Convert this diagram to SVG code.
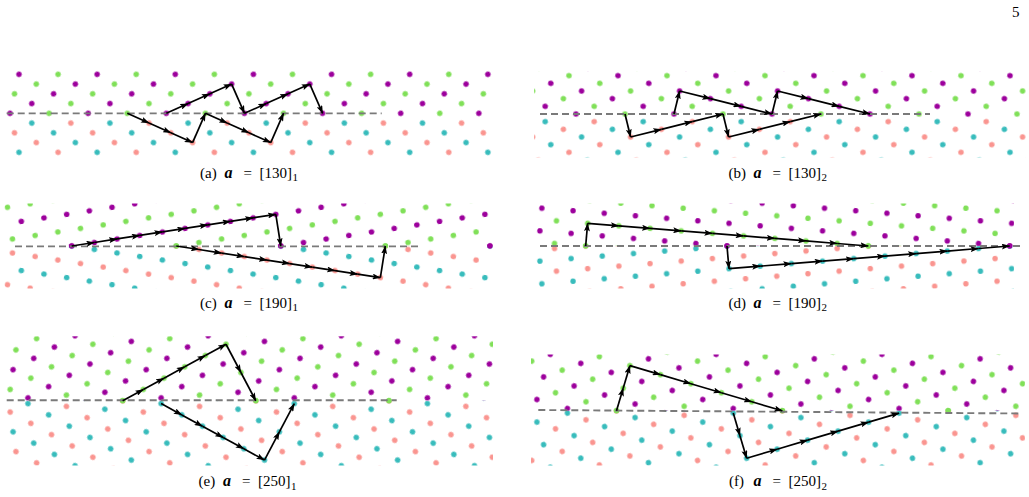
<svg xmlns="http://www.w3.org/2000/svg" width="1029" height="497" viewBox="0 0 1029 497">
<style>
.p{fill:#9c009c}.g{fill:#80e058}.t{fill:#38bcbc}.k{fill:#fa9590}
.ax{stroke:#7a7a7a;stroke-width:1.9;stroke-dasharray:7 4;fill:none}
.ar line{stroke:#000;stroke-width:1.7;marker-end:url(#ah)}
.lbl{font-family:"Liberation Serif","Times New Roman",serif;font-size:15px;fill:#000}
.bi{font-weight:bold;font-style:italic;font-size:16px}
</style>
<defs>
<marker id="ah" viewBox="0 0 8.5 6" refX="8" refY="3" markerWidth="8.5" markerHeight="6" markerUnits="userSpaceOnUse" orient="auto"><path d="M0,0 L8.5,3 L0,6 L1.7,3 z" fill="#000"/></marker>
<pattern id="pau" patternUnits="userSpaceOnUse" width="23.866" height="31.922" patternTransform="matrix(-0.91281 0.40853 0.40051 0.9163 21.25 64.58)"><circle class="p" cx="5.9665" cy="7.9805" r="2.75"/><circle class="g" cx="17.8995" cy="23.9415" r="2.75"/></pattern>
<pattern id="pal" patternUnits="userSpaceOnUse" width="23.866" height="31.922" patternTransform="matrix(-0.91281 -0.40853 0.40051 -0.9163 21.25 162.08)"><circle class="t" cx="5.9665" cy="7.9805" r="2.75"/><circle class="k" cx="17.8995" cy="23.9415" r="2.75"/></pattern>
<pattern id="pbu" patternUnits="userSpaceOnUse" width="31.74" height="23.672" patternTransform="matrix(0.97039 0.24156 -0.23657 0.97161 611.7 68)"><circle class="p" cx="7.935" cy="5.918" r="2.75"/><circle class="g" cx="23.805" cy="17.754" r="2.75"/></pattern>
<pattern id="pbl" patternUnits="userSpaceOnUse" width="31.74" height="23.672" patternTransform="matrix(0.97039 -0.24156 -0.23657 -0.97161 611.7 160)"><circle class="t" cx="7.935" cy="5.918" r="2.75"/><circle class="k" cx="23.805" cy="17.754" r="2.75"/></pattern>
<pattern id="pcu" patternUnits="userSpaceOnUse" width="22.952" height="32.062" patternTransform="matrix(0.98815 -0.15336 0.15595 0.98777 64.75 238.9625)"><circle class="p" cx="5.738" cy="8.0155" r="2.75"/><circle class="g" cx="17.214" cy="24.0465" r="2.75"/></pattern>
<pattern id="pcl" patternUnits="userSpaceOnUse" width="22.952" height="32.062" patternTransform="matrix(0.98815 0.15336 0.15595 -0.98777 64.75 253.0375)"><circle class="t" cx="5.738" cy="8.0155" r="2.75"/><circle class="k" cx="17.214" cy="24.0465" r="2.75"/></pattern>
<pattern id="pdu" patternUnits="userSpaceOnUse" width="22.754" height="31.292" patternTransform="matrix(0.0857 -0.99631 0.99674 0.0805 577.385 251.038)"><circle class="g" cx="5.6885" cy="7.823" r="2.75"/><circle class="p" cx="17.0655" cy="23.469" r="2.75"/></pattern>
<pattern id="pdl" patternUnits="userSpaceOnUse" width="22.754" height="31.292" patternTransform="matrix(0.0857 0.99631 0.99674 -0.0805 577.385 240.962)"><circle class="k" cx="5.6885" cy="7.823" r="2.75"/><circle class="t" cx="17.0655" cy="23.469" r="2.75"/></pattern>
<pattern id="peu" patternUnits="userSpaceOnUse" width="23.557" height="31.939" patternTransform="matrix(0.87745 -0.47969 0.46651 0.8845 113.7775 396.5125)"><circle class="g" cx="5.889" cy="7.985" r="2.75"/><circle class="p" cx="17.668" cy="23.954" r="2.75"/></pattern>
<pattern id="pel" patternUnits="userSpaceOnUse" width="23.557" height="31.939" patternTransform="matrix(0.87745 0.47969 0.46651 -0.8845 113.7775 404.9875)"><circle class="k" cx="5.889" cy="7.985" r="2.75"/><circle class="t" cx="17.668" cy="23.954" r="2.75"/></pattern>
<pattern id="pfu" patternUnits="userSpaceOnUse" width="23.55" height="31.8" patternTransform="matrix(0.28408 -0.95881 0.9588 0.28396 607.205 414.1875)"><circle class="g" cx="5.8875" cy="7.95" r="2.75"/><circle class="p" cx="17.6625" cy="23.85" r="2.75"/></pattern>
<pattern id="pfl" patternUnits="userSpaceOnUse" width="23.55" height="31.8" patternTransform="matrix(0.28408 0.95881 0.9588 -0.28396 607.205 407.4125)"><circle class="k" cx="5.8875" cy="7.95" r="2.75"/><circle class="t" cx="17.6625" cy="23.85" r="2.75"/></pattern>
</defs>
<rect width="1029" height="497" fill="#fff"/>
<text class="lbl" x="1012" y="17" font-size="14">5</text>

<g id="panel-a">
<rect x="5" y="69" width="488" height="48.33" fill="url(#pau)"/>
<rect x="5" y="117.33" width="488" height="39.67" fill="url(#pal)"/>
<line class="ax" x1="6.7" y1="113.33" x2="381.7" y2="113.33"/>
<g id="arrows-a" class="ar">
<line x1="127.27" y1="113.33" x2="149" y2="123.08"/><line x1="149" y1="123.08" x2="170.78" y2="132.83"/><line x1="170.78" y1="132.83" x2="192.57" y2="142.58"/><line x1="192.57" y1="142.58" x2="205.41" y2="113.33"/><line x1="205.41" y1="113.33" x2="227.14" y2="123.08"/><line x1="227.14" y1="123.08" x2="248.92" y2="132.83"/><line x1="248.92" y1="132.83" x2="270.71" y2="142.58"/><line x1="270.71" y1="142.58" x2="283.55" y2="113.33"/>
<line x1="166.34" y1="113.33" x2="188.07" y2="103.58"/><line x1="188.07" y1="103.58" x2="209.85" y2="93.83"/><line x1="209.85" y1="93.83" x2="231.64" y2="84.08"/><line x1="231.64" y1="84.08" x2="244.48" y2="113.33"/><line x1="244.48" y1="113.33" x2="266.21" y2="103.58"/><line x1="266.21" y1="103.58" x2="287.99" y2="93.83"/><line x1="287.99" y1="93.83" x2="309.78" y2="84.08"/><line x1="309.78" y1="84.08" x2="322.62" y2="113.33"/>
</g>
<text class="lbl" y="177.7"><tspan x="200">(a)</tspan><tspan x="224.5" class="bi">a</tspan><tspan x="243.5">=</tspan><tspan x="259.5">[130]</tspan><tspan x="292.5" dy="3.5" font-size="11">1</tspan></text>
</g>

<g id="panel-b">
<rect x="534" y="71" width="492" height="47" fill="url(#pbu)"/>
<rect x="534" y="118" width="492" height="39.5" fill="url(#pbl)"/>
<line class="ax" x1="540" y1="114" x2="930" y2="114"/>
<g id="arrows-b" class="ar">
<line x1="625" y1="114" x2="630.6" y2="137"/><line x1="630.6" y1="137" x2="661.4" y2="129.33"/><line x1="661.4" y1="129.33" x2="692.2" y2="121.67"/><line x1="692.2" y1="121.67" x2="723" y2="114"/><line x1="723" y1="114" x2="728.6" y2="137"/><line x1="728.6" y1="137" x2="759.4" y2="129.33"/><line x1="759.4" y1="129.33" x2="790.2" y2="121.67"/><line x1="790.2" y1="121.67" x2="821" y2="114"/>
<line x1="674" y1="114" x2="679.6" y2="91"/><line x1="679.6" y1="91" x2="710.4" y2="98.67"/><line x1="710.4" y1="98.67" x2="741.2" y2="106.33"/><line x1="741.2" y1="106.33" x2="772" y2="114"/><line x1="772" y1="114" x2="777.6" y2="91"/><line x1="777.6" y1="91" x2="808.4" y2="98.67"/><line x1="808.4" y1="98.67" x2="839.2" y2="106.33"/><line x1="839.2" y1="106.33" x2="870" y2="114"/>
</g>
<text class="lbl" y="177.7"><tspan x="728.5">(b)</tspan><tspan x="753.5" class="bi">a</tspan><tspan x="772.5">=</tspan><tspan x="788.5">[130]</tspan><tspan x="821.5" dy="3.5" font-size="11">2</tspan></text>
</g>

<g id="panel-c">
<rect x="4.5" y="203.5" width="488.5" height="42.5" fill="url(#pcu)"/>
<rect x="4.5" y="246" width="488.5" height="42.5" fill="url(#pcl)"/>
<circle class="p" cx="71.67" cy="246" r="2.75"/><circle class="g" cx="176.23" cy="246" r="2.75"/><circle class="p" cx="280.79" cy="246" r="2.75"/><circle class="g" cx="385.35" cy="246" r="2.75"/><circle class="p" cx="489.91" cy="246" r="2.75"/>
<line class="ax" x1="15" y1="246.4" x2="420" y2="246.4"/>
<g id="arrows-c" class="ar">
<line x1="71.67" y1="246" x2="94.35" y2="242.48"/><line x1="94.35" y1="242.48" x2="117.03" y2="238.96"/><line x1="117.03" y1="238.96" x2="139.71" y2="235.44"/><line x1="139.71" y1="235.44" x2="162.39" y2="231.92"/><line x1="162.39" y1="231.92" x2="185.07" y2="228.4"/><line x1="185.07" y1="228.4" x2="207.75" y2="224.88"/><line x1="207.75" y1="224.88" x2="230.43" y2="221.36"/><line x1="230.43" y1="221.36" x2="253.11" y2="217.84"/><line x1="253.11" y1="217.84" x2="275.79" y2="214.32"/><line x1="275.79" y1="214.32" x2="280.79" y2="246"/>
<line x1="176.23" y1="246" x2="198.91" y2="249.52"/><line x1="198.91" y1="249.52" x2="221.59" y2="253.04"/><line x1="221.59" y1="253.04" x2="244.27" y2="256.56"/><line x1="244.27" y1="256.56" x2="266.95" y2="260.08"/><line x1="266.95" y1="260.08" x2="289.63" y2="263.6"/><line x1="289.63" y1="263.6" x2="312.31" y2="267.12"/><line x1="312.31" y1="267.12" x2="334.99" y2="270.64"/><line x1="334.99" y1="270.64" x2="357.67" y2="274.16"/><line x1="357.67" y1="274.16" x2="380.35" y2="277.68"/><line x1="380.35" y1="277.68" x2="385.35" y2="246"/>
</g>
<text class="lbl" y="307.7"><tspan x="200">(c)</tspan><tspan x="224.5" class="bi">a</tspan><tspan x="243.5">=</tspan><tspan x="259.5">[190]</tspan><tspan x="292.5" dy="3.5" font-size="11">1</tspan></text>
</g>

<g id="panel-d">
<rect x="536" y="203.5" width="478" height="42.5" fill="url(#pdu)"/>
<rect x="536" y="246" width="478" height="42.5" fill="url(#pdl)"/>
<circle class="g" cx="585.67" cy="246" r="2.75"/><circle class="p" cx="727" cy="246" r="2.75"/><circle class="g" cx="868.33" cy="246" r="2.75"/><circle class="p" cx="1009.66" cy="246" r="2.75"/>
<line class="ax" x1="540" y1="246" x2="1020" y2="246"/>
<g id="arrows-d" class="ar">
<line x1="585.67" y1="246" x2="587.62" y2="223.33"/><line x1="587.62" y1="223.33" x2="618.81" y2="225.85"/><line x1="618.81" y1="225.85" x2="650" y2="228.37"/><line x1="650" y1="228.37" x2="681.19" y2="230.89"/><line x1="681.19" y1="230.89" x2="712.38" y2="233.41"/><line x1="712.38" y1="233.41" x2="743.57" y2="235.93"/><line x1="743.57" y1="235.93" x2="774.76" y2="238.44"/><line x1="774.76" y1="238.44" x2="805.95" y2="240.96"/><line x1="805.95" y1="240.96" x2="837.14" y2="243.48"/><line x1="837.14" y1="243.48" x2="868.33" y2="246"/>
<line x1="727" y1="246" x2="728.95" y2="268.67"/><line x1="728.95" y1="268.67" x2="760.14" y2="266.15"/><line x1="760.14" y1="266.15" x2="791.33" y2="263.63"/><line x1="791.33" y1="263.63" x2="822.52" y2="261.11"/><line x1="822.52" y1="261.11" x2="853.71" y2="258.59"/><line x1="853.71" y1="258.59" x2="884.9" y2="256.07"/><line x1="884.9" y1="256.07" x2="916.09" y2="253.56"/><line x1="916.09" y1="253.56" x2="947.28" y2="251.04"/><line x1="947.28" y1="251.04" x2="978.47" y2="248.52"/><line x1="978.47" y1="248.52" x2="1009.66" y2="246"/>
</g>
<text class="lbl" y="307.7"><tspan x="728.5">(d)</tspan><tspan x="753.5" class="bi">a</tspan><tspan x="772.5">=</tspan><tspan x="788.5">[190]</tspan><tspan x="821.5" dy="3.5" font-size="11">2</tspan></text>
</g>

<g id="panel-e">
<rect x="4.5" y="336.3" width="488.5" height="64.45" fill="url(#peu)"/>
<rect x="4.5" y="400.75" width="488.5" height="64.75" fill="url(#pel)"/>
<circle class="g" cx="122.67" cy="400.75" r="2.75"/><circle class="g" cx="255.82" cy="400.75" r="2.75"/><circle class="g" cx="388.97" cy="400.75" r="2.75"/>
<line class="ax" x1="6.7" y1="400.3" x2="396.7" y2="400.3"/>
<g id="arrows-e" class="ar">
<line x1="122.67" y1="400.75" x2="143.34" y2="389.45"/><line x1="143.34" y1="389.45" x2="164.01" y2="378.15"/><line x1="164.01" y1="378.15" x2="184.68" y2="366.85"/><line x1="184.68" y1="366.85" x2="205.35" y2="355.55"/><line x1="205.35" y1="355.55" x2="226.02" y2="344.25"/><line x1="226.02" y1="344.25" x2="240.92" y2="372.5"/><line x1="240.92" y1="372.5" x2="255.82" y2="400.75"/>
<line x1="161.13" y1="403.58" x2="181.8" y2="414.88"/><line x1="181.8" y1="414.88" x2="202.47" y2="426.18"/><line x1="202.47" y1="426.18" x2="223.14" y2="437.48"/><line x1="223.14" y1="437.48" x2="243.81" y2="448.78"/><line x1="243.81" y1="448.78" x2="264.48" y2="460.08"/><line x1="264.48" y1="460.08" x2="279.38" y2="431.83"/><line x1="279.38" y1="431.83" x2="294.28" y2="403.58"/>
</g>
<text class="lbl" y="486.3"><tspan x="198.5">(e)</tspan><tspan x="223" class="bi">a</tspan><tspan x="242">=</tspan><tspan x="258">[250]</tspan><tspan x="291" dy="3.5" font-size="11">1</tspan></text>
</g>

<g id="panel-f">
<rect x="531" y="354.5" width="494" height="56.3" fill="url(#pfu)"/>
<rect x="531" y="410.8" width="494" height="54.7" fill="url(#pfl)"/>
<circle class="g" cx="616.5" cy="410.8" r="2.75"/><circle class="g" cx="782.33" cy="410.8" r="2.75"/><circle class="g" cx="948.16" cy="410.8" r="2.75"/>
<line class="ax" x1="538.3" y1="410" x2="1021.7" y2="413.5"/>
<g id="arrows-f" class="ar">
<line x1="616.5" y1="410.8" x2="623.19" y2="388.22"/><line x1="623.19" y1="388.22" x2="629.88" y2="365.64"/><line x1="629.88" y1="365.64" x2="660.37" y2="374.67"/><line x1="660.37" y1="374.67" x2="690.86" y2="383.7"/><line x1="690.86" y1="383.7" x2="721.35" y2="392.73"/><line x1="721.35" y1="392.73" x2="751.84" y2="401.76"/><line x1="751.84" y1="401.76" x2="782.33" y2="410.79"/>
<line x1="733.25" y1="413.07" x2="739.94" y2="435.65"/><line x1="739.94" y1="435.65" x2="746.63" y2="458.23"/><line x1="746.63" y1="458.23" x2="777.12" y2="449.2"/><line x1="777.12" y1="449.2" x2="807.61" y2="440.17"/><line x1="807.61" y1="440.17" x2="838.1" y2="431.14"/><line x1="838.1" y1="431.14" x2="868.59" y2="422.11"/><line x1="868.59" y1="422.11" x2="899.08" y2="413.08"/>
</g>
<text class="lbl" y="486.3"><tspan x="729">(f)</tspan><tspan x="753.5" class="bi">a</tspan><tspan x="772.5">=</tspan><tspan x="788.5">[250]</tspan><tspan x="821.5" dy="3.5" font-size="11">2</tspan></text>
</g>
</svg>
